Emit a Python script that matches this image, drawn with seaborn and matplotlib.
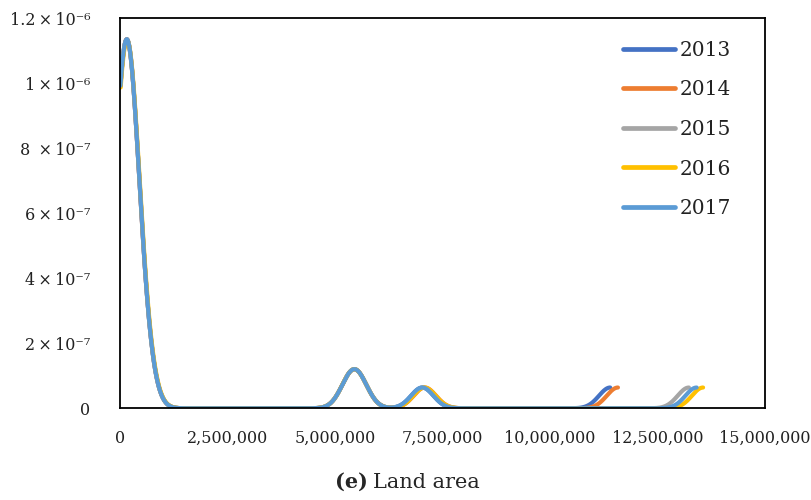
import numpy as np
import pandas as pd
import matplotlib
matplotlib.use("Agg")
import matplotlib.pyplot as plt
import seaborn as sns

# ---- data (land area per unit) ----
years = ["2013", "2014", "2015", "2016", "2017"]
colors = ["#4472C4", "#ED7D31", "#A5A5A5", "#FFC000", "#5B9BD5"]

area_2013 = [10000, 30000, 50000, 70000, 80000, 90000, 100000, 110000, 120000,
             130000, 140000, 150000, 170000, 190000, 220000, 260000, 310000,
             370000, 450000, 550000, 5360000, 5540000, 7030000, 11400000]
area_2014 = [10000, 30000, 50000, 70000, 80000, 90000, 100000, 110000, 120000,
             130000, 140000, 150000, 170000, 190000, 220000, 260000, 310000,
             370000, 450000, 550000, 5360000, 5540000, 7090000, 11580000]
area_2015 = [10000, 30000, 50000, 70000, 80000, 90000, 100000, 110000, 120000,
             130000, 140000, 150000, 170000, 190000, 220000, 260000, 310000,
             370000, 450000, 550000, 5360000, 5540000, 7050000, 13230000]
area_2016 = [15000, 35000, 55000, 75000, 85000, 95000, 105000, 115000, 125000,
             135000, 145000, 160000, 180000, 200000, 230000, 270000, 320000,
             380000, 460000, 560000, 5360000, 5540000, 7080000, 13560000]
area_2017 = [10000, 30000, 50000, 70000, 80000, 90000, 100000, 110000, 120000,
             130000, 140000, 150000, 170000, 190000, 220000, 260000, 310000,
             370000, 450000, 550000, 5360000, 5540000, 7030000, 13410000]
areas = [area_2013, area_2014, area_2015, area_2016, area_2017]

x_ticks = [0, 2500000, 5000000, 7500000, 10000000, 12500000, 15000000]
x_tick_labels = ["0", "2,500,000", "5,000,000", "7,500,000", "10,000,000",
                 "12,500,000", "15,000,000"]
y_ticks = [0, 2e-7, 4e-7, 6e-7, 8e-7, 1e-6, 1.2e-6]
y_tick_labels = ["0", "2\u2009×\u200910⁻⁷", "4\u2009×\u200910⁻⁷",
                 "6\u2009×\u200910⁻⁷", "8 \u2009×\u200910⁻⁷",
                 "1\u2009×\u200910⁻⁶", "1.2\u2009×\u200910⁻⁶"]

BANDWIDTH = 260000  # Gaussian kernel width, axis units

sns.set_style("white")
plt.rcParams["font.family"] = ["DejaVu Serif", "DejaVu Sans"]

fig = plt.figure(figsize=(8.11, 5.0), dpi=100)
ax = fig.add_axes([120 / 811, 91.7 / 500, 645 / 811, 390 / 500])

for yr, col, vals in zip(years, colors, areas):
    df = pd.DataFrame({"area": np.array(vals, dtype=float)})
    factor = BANDWIDTH / df["area"].std(ddof=1)
    sns.kdeplot(data=df, x="area", ax=ax, color=col, lw=3.0, cut=0,
                bw_method=factor, gridsize=800, label=yr,
                solid_capstyle="round")

ax.set_xlim(0, 15000000)
ax.set_ylim(0, 1.2e-6)
ax.set_xticks(x_ticks)
ax.set_xticklabels(x_tick_labels)
ax.set_yticks(y_ticks)
ax.set_yticklabels(y_tick_labels)
ax.set_xlabel("")
ax.set_ylabel("")

for s in ax.spines.values():
    s.set_visible(True)
    s.set_color("black")
    s.set_linewidth(1.3)

ax.tick_params(axis="both", direction="out", length=5.5, width=1.2,
               color="black", labelcolor="#222222", labelsize=11.5)
ax.tick_params(axis="y", pad=16, labelsize=11.5)
ax.tick_params(axis="x", pad=10)

leg = ax.legend(loc="upper left", bbox_to_anchor=(0.78, 0.942), frameon=False,
                fontsize=14.5, handlelength=2.6, handletextpad=0.2,
                labelspacing=1.02, borderpad=0, borderaxespad=0)
for h in leg.get_lines():
    h.set_linewidth(3.4)
for t in leg.get_texts():
    t.set_color("#222222")

fig.text(335 / 811, 0.024, "(e)", fontsize=15, fontweight="bold", ha="left",
         va="baseline")
fig.text(373 / 811, 0.024, "Land area", fontsize=15, ha="left", va="baseline")

fig.savefig("out.png", dpi=100, facecolor="white")
